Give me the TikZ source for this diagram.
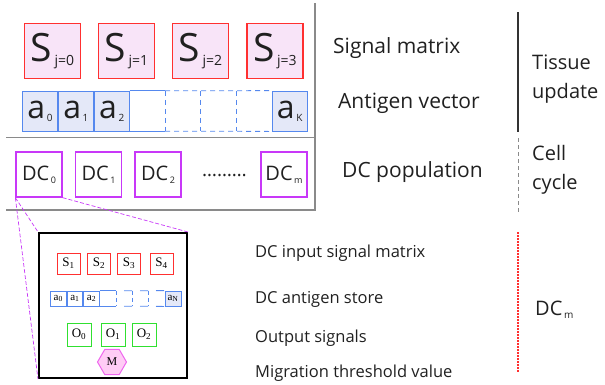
\documentclass[tikz,border=0pt]{standalone}
\usepackage{fontspec}
\setmainfont{Open Sans}
\newfontfamily\serifin{Liberation Serif}
\usetikzlibrary{shapes.geometric}
\definecolor{sigred}{HTML}{FF3030}
\definecolor{sigfill}{HTML}{F8E4F8}
\definecolor{antblue}{HTML}{5588EE}
\definecolor{antfill}{HTML}{E4E8F8}
\definecolor{dcmag}{HTML}{C838F8}
\definecolor{outgreen}{HTML}{30E030}
\definecolor{hexfill}{HTML}{FFCCF5}
\definecolor{hexdraw}{HTML}{EE66EE}
\definecolor{framegrey}{HTML}{8A8A8A}
\definecolor{txt}{HTML}{202020}
\newcommand{\fs}[1]{\fontsize{#1}{#1}\selectfont}
\newcommand{\sbx}[4]{{\fs{#1}#2}{\fs{#3}\raisebox{-0.3em}{\,#4}}}
\tikzset{
  sigbox/.style={draw=sigred, line width=1.2pt, fill=sigfill, minimum width=56pt, minimum height=55pt, inner sep=0pt, text=txt},
  antcell/.style={minimum width=35.1pt, minimum height=40pt, inner sep=0pt, anchor=west, text=txt},
  antfilled/.style={antcell, draw=antblue, fill=antfill, line width=0.8pt},
  antline/.style={draw=antblue, line width=0.8pt},
  antdash/.style={antline, dash pattern=on 5pt off 4pt},
  dcbox/.style={draw=dcmag, line width=1.3pt, fill=white, minimum width=46pt, minimum height=45pt, inner sep=0pt, text=txt},
  zoomline/.style={draw=dcmag, line width=0.7pt, dash pattern=on 4pt off 2pt},
  framel/.style={draw=framegrey, line width=1.2pt},
  isig/.style={draw=sigred, line width=1pt, fill=white, minimum width=23pt, minimum height=21pt, inner sep=0pt, font=\serifin\fs{13}},
  icell/.style={minimum width=15.8pt, minimum height=15pt, inner sep=0pt, anchor=west, font=\serifin\fs{11}},
  iout/.style={draw=outgreen, line width=1pt, fill=white, minimum width=24pt, minimum height=23pt, inner sep=0pt, font=\serifin\fs{13}},
  lbl/.style={anchor=west, inner sep=0pt, font=\fs{21}, text=txt},
  lbls/.style={anchor=west, inner sep=0pt, font=\fs{16.5}, text=txt},
  side/.style={anchor=west, inner sep=0pt, font=\fontsize{20}{29}\selectfont, align=left, text=txt},
}
\begin{document}
\begin{tikzpicture}[x=1pt,y=-1pt]
\useasboundingbox (0,0) rectangle (605,384);
% frame
\coordinate (ftop) at (315,3);
\coordinate (fbot) at (315,211);
\coordinate (m1l) at (6,137.5);
\coordinate (m1r) at (315,137.5);
\coordinate (m2l) at (6,210);
\coordinate (m2r) at (315,210);
\draw[framel] (ftop) -- (fbot);
\draw[framel] (m1l) -- (m1r);
\draw[framel] (m2l) -- (m2r);
% signal matrix
\node[sigbox] (s0) at (52.5,51) {\sbx{39}{S}{14}{j=0}};
\node[sigbox] (s1) at (126.5,51) {\sbx{39}{S}{14}{j=1}};
\node[sigbox] (s2) at (200.5,51) {\sbx{39}{S}{14}{j=2}};
\node[sigbox] (s3) at (275,51) {\sbx{39}{S}{14}{j=3}};
% antigen vector
\node[antfilled] (a0) at (22,111) {\sbx{32}{a}{10}{0}};
\node[antfilled] (a1) at (a0.east) {\sbx{32}{a}{10}{1}};
\node[antfilled] (a2) at (a1.east) {\sbx{32}{a}{10}{2}};
\node[antcell] (a3) at (a2.east) {};
\node[antcell] (a4) at (a3.east) {};
\node[antcell] (a5) at (a4.east) {};
\node[antcell] (a6) at (a5.east) {};
\node[antfilled] (ak) at (a6.east) {\sbx{32}{a}{10}{K}};
\draw[antline] (a3.north west) -- (a3.north east);
\draw[antline] (a3.south west) -- (a3.south east);
\draw[antdash] (a3.north east) -- (ak.north west);
\draw[antdash] (a3.south east) -- (ak.south west);
\draw[antdash] (a3.north east) -- (a3.south east);
\draw[antdash] (a4.north east) -- (a4.south east);
\draw[antdash] (a5.north east) -- (a5.south east);
% DC population
\node[dcbox] (dc0) at (39,174.5) {\sbx{20}{DC}{9}{0}};
\node[dcbox] (dc1) at (98.5,174.5) {\sbx{20}{DC}{9}{1}};
\node[dcbox] (dc2) at (158,174.5) {\sbx{20}{DC}{9}{2}};
\node[inner sep=0pt, font=\fs{19}, text=txt] (dots) at (224.5,176) {\dots\dots\dots};
\node[dcbox] (dcm) at (284,174.5) {\sbx{20}{DC}{9}{m}};
% inner DC
\node[draw=black, line width=2pt, minimum width=148pt, minimum height=145pt, inner sep=0pt] (inner) at (113,305.5) {};
\draw[zoomline] (dc0.south west) -- (inner.north west);
\draw[zoomline] (dc0.south west) -- (inner.south west);
\draw[zoomline] (dc0.south east) -- (inner.north east);
\node[isig] (is1) at (68.5,263.5) {S\textsubscript{1}};
\node[isig] (is2) at (99,263.5) {S\textsubscript{2}};
\node[isig] (is3) at (129,263.5) {S\textsubscript{3}};
\node[isig] (is4) at (161.5,263.5) {S\textsubscript{4}};
\node[icell, draw=antblue, line width=0.8pt] (ia0) at (50,298.5) {a\textsubscript{0}};
\node[icell, draw=antblue, line width=0.8pt] (ia1) at (ia0.east) {a\textsubscript{1}};
\node[icell, draw=antblue, line width=0.8pt] (ia2) at (ia1.east) {a\textsubscript{2}};
\node[icell] (ia3) at (ia2.east) {};
\node[icell] (ia4) at (ia3.east) {};
\node[icell] (ia5) at (ia4.east) {};
\node[icell] (ia6) at (ia5.east) {};
\node[icell, minimum width=16pt, draw=antblue, fill=antfill, line width=0.8pt] (ian) at (ia6.east) {a\textsubscript{N}};
\draw[antline] (ia3.north west) -- (ia3.north east);
\draw[antline] (ia3.south west) -- (ia3.south east);
\draw[antline, dash pattern=on 8pt off 8pt, dash phase=-8pt] (ia3.north east) -- (ian.north west);
\draw[antline, dash pattern=on 8pt off 8pt, dash phase=-8pt] (ia3.south east) -- (ian.south west);
\draw[antline, dash pattern=on 4pt off 3pt] (ia3.north east) -- (ia3.south east);
\draw[antline, dash pattern=on 4pt off 3pt] (ia4.north east) -- (ia4.south east);
\draw[antline, dash pattern=on 4pt off 3pt] (ia5.north east) -- (ia5.south east);
\node[iout] (io0) at (79,334.5) {O\textsubscript{0}};
\node[iout] (io1) at (113,334.5) {O\textsubscript{1}};
\node[iout] (io2) at (144,334.5) {O\textsubscript{2}};
\node[regular polygon, regular polygon sides=6, draw=hexdraw, fill=hexfill, line width=1pt, minimum width=29pt, inner sep=0pt, font=\serifin\fs{12}] (hexm) at (112,362) {M};
% labels
\node[lbl] (lsig) at (333,48) {Signal matrix};
\node[lbl] (lant) at (338,103) {Antigen vector};
\node[lbl] (ldc) at (342,172) {DC population};
\coordinate (v1t) at (518,12);
\coordinate (v1b) at (518,132);
\coordinate (v2t) at (518,138);
\coordinate (v2b) at (518,212);
\coordinate (v3t) at (518,232);
\coordinate (v3b) at (518,373);
\draw[line width=1.3pt, black!80] (v1t) -- (v1b);
\draw[line width=0.9pt, framegrey, dash pattern=on 4pt off 3pt] (v2t) -- (v2b);
\draw[line width=1.3pt, sigred, dash pattern=on 1.5pt off 1.5pt] (v3t) -- (v3b);
\node[side] (ltis) at (532,79) {Tissue\\update};
\node[side] (lcell) at (532,170) {Cell\\cycle};
\node[lbls] (lin) at (255,253) {DC input signal matrix};
\node[lbls] (lst) at (255,299) {DC antigen store};
\node[lbls] (lout) at (255,338) {Output signals};
\node[lbls] (lmig) at (255,373) {Migration threshold value};
\node[side] (ldcm) at (535,310) {\sbx{20}{DC}{10}{m}};
\end{tikzpicture}
\end{document}
